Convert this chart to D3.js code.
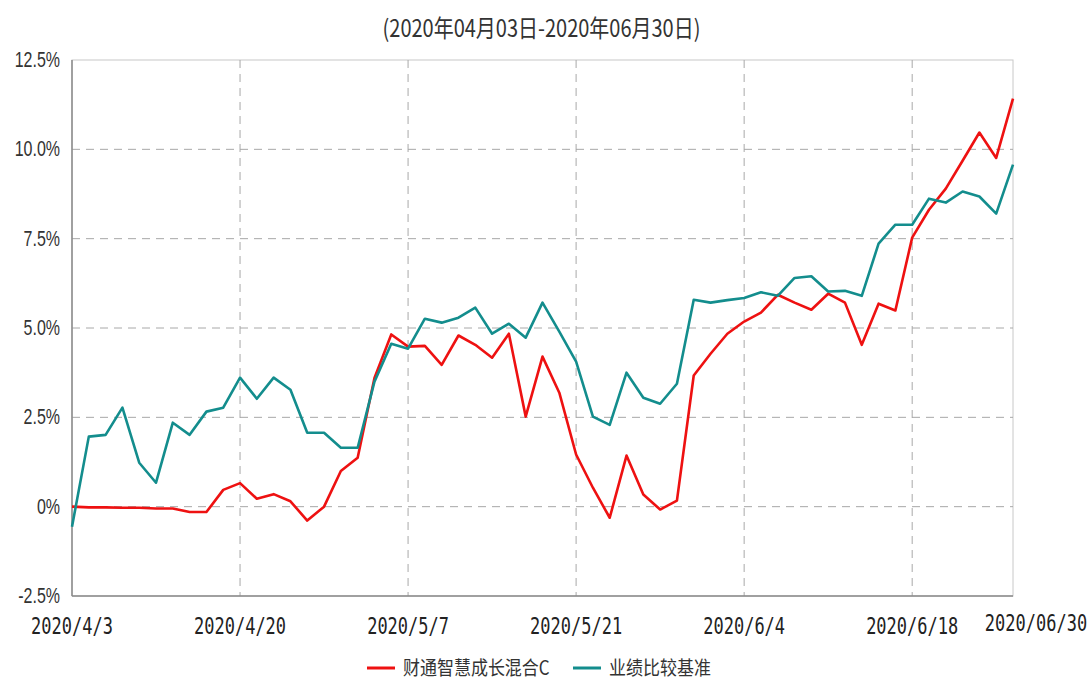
<!DOCTYPE html>
<meta charset="utf-8">
<style>
  body { margin: 0; background: #fff; }
  .grid line { stroke: #a8a8a8; stroke-width: 1px; stroke-dasharray: 8,6; }
  .tick-y text { font-family: "Liberation Sans", Arial, sans-serif; fill: #333; }
  .tick-x text { font-family: "DejaVu Sans Mono", monospace; fill: #222; }
  .line { fill: none; stroke-width: 2.6px; stroke-linejoin: round; }
</style>
<body>
<script src="https://cdn.jsdelivr.net/npm/d3@7"></script>
<script>
  // trading days 2020-04-03 .. 2020-06-30
  var dates = ["4/3","4/7","4/8","4/9","4/10","4/13","4/14","4/15","4/16","4/17",
    "4/20","4/21","4/22","4/23","4/24","4/27","4/28","4/29","4/30","5/6",
    "5/7","5/8","5/11","5/12","5/13","5/14","5/15","5/18","5/19","5/20",
    "5/21","5/22","5/25","5/26","5/27","5/28","5/29","6/1","6/2","6/3",
    "6/4","6/5","6/8","6/9","6/10","6/11","6/12","6/15","6/16","6/17",
    "6/18","6/19","6/22","6/23","6/24","6/29","6/30"];

  // 财通智慧成长混合C (%)
  var fund = [0, -0.02, -0.02, -0.03, -0.03, -0.05, -0.05, -0.15, -0.15, 0.47,
    0.66, 0.22, 0.35, 0.15, -0.39, 0.0, 1.0, 1.37, 3.6, 4.82,
    4.48, 4.5, 3.97, 4.79, 4.53, 4.17, 4.84, 2.52, 4.2, 3.19,
    1.46, 0.53, -0.31, 1.43, 0.34, -0.08, 0.17, 3.67, 4.28, 4.84,
    5.18, 5.43, 5.93, 5.71, 5.51, 5.96, 5.71, 4.53, 5.68, 5.49,
    7.53, 8.31, 8.9, 9.68, 10.47, 9.76, 11.42];

  // 业绩比较基准 (%)
  var bench = [-0.56, 1.96, 2.01, 2.77, 1.23, 0.67, 2.35, 2.01, 2.66, 2.77,
    3.61, 3.02, 3.61, 3.27, 2.07, 2.07, 1.65, 1.65, 3.5, 4.56,
    4.42, 5.26, 5.15, 5.29, 5.57, 4.84, 5.12, 4.73, 5.71, 4.9,
    4.06, 2.52, 2.29, 3.75, 3.05, 2.88, 3.44, 5.79, 5.71, 5.78,
    5.84, 6.0, 5.9, 6.4, 6.45, 6.02, 6.04, 5.9, 7.36, 7.89,
    7.89, 8.62, 8.51, 8.82, 8.68, 8.2, 9.57];

  var yTicks = [-2.5, 0, 2.5, 5, 7.5, 10, 12.5];
  var xTicks = ["4/3", "4/20", "5/7", "5/21", "6/4", "6/18"];
  var endLabel = "2020/06/30";
  var title = "(2020年04月03日-2020年06月30日)";
  var seriesNames = ["财通智慧成长混合C", "业绩比较基准"];
  var colors = ["#ee1111", "#138d8d"];

  var W = 1087, H = 689;
  var margin = { top: 60, right: 74, bottom: 93, left: 72 };

  var svg = d3.select("body").append("svg")
    .attr("width", W)
    .attr("height", H);

  var x = d3.scalePoint()
    .domain(dates)
    .range([margin.left, W - margin.right]);

  var y = d3.scaleLinear()
    .domain([-2.5, 12.5])
    .range([H - margin.bottom, margin.top]);

  // title
  svg.append("text")
    .attr("transform", "translate(" + (W / 2 - 2) + ",37) scale(1,1.2)")
    .attr("text-anchor", "middle")
    .style("font-family", "'Noto Sans CJK SC', sans-serif")
    .style("font-size", "20px")
    .style("fill", "#333")
    .text(title);

  // frame
  svg.append("rect")
    .attr("x", margin.left)
    .attr("y", margin.top)
    .attr("width", W - margin.right - margin.left)
    .attr("height", H - margin.bottom - margin.top)
    .style("fill", "none")
    .style("stroke", "#c8c8c8");

  // gridlines
  var grid = svg.append("g").attr("class", "grid");
  grid.selectAll(".gy")
    .data(yTicks.filter(function(d) { return d > -2.5 && d < 12.5; }))
    .enter().append("line")
    .attr("x1", margin.left)
    .attr("x2", W - margin.right)
    .attr("y1", function(d) { return y(d); })
    .attr("y2", function(d) { return y(d); });

  grid.selectAll(".gx")
    .data(xTicks.slice(1))
    .enter().append("line")
    .attr("x1", function(d) { return x(d); })
    .attr("x2", function(d) { return x(d); })
    .attr("y1", margin.top)
    .attr("y2", H - margin.bottom);

  // axis lines
  svg.append("line")
    .attr("x1", margin.left).attr("x2", margin.left)
    .attr("y1", margin.top).attr("y2", H - margin.bottom)
    .style("stroke", "#8a8a8a").style("stroke-width", 1.5);
  svg.append("line")
    .attr("x1", margin.left).attr("x2", W - margin.right)
    .attr("y1", H - margin.bottom).attr("y2", H - margin.bottom)
    .style("stroke", "#8a8a8a").style("stroke-width", 1.5);

  // y labels
  svg.append("g").attr("class", "tick-y")
    .selectAll("text")
    .data(yTicks)
    .enter().append("text")
    .attr("transform", function(d) { return "translate(60," + (y(d) + 7) + ") scale(1,1.35)"; })
    .attr("text-anchor", "end")
    .style("font-size", "16px")
    .text(function(d) { return d === 0 ? "0%" : d.toFixed(1) + "%"; });

  // x labels
  var xl = svg.append("g").attr("class", "tick-x");
  xl.selectAll("text")
    .data(xTicks)
    .enter().append("text")
    .attr("transform", function(d) { return "translate(" + x(d) + ",634) scale(1,1.35)"; })
    .attr("text-anchor", "middle")
    .style("font-size", "17px")
    .text(function(d) { return "2020/" + d; });
  xl.append("text")
    .attr("transform", "translate(" + (x(dates[dates.length - 1]) + 23) + ",631) scale(1,1.35)")
    .attr("text-anchor", "middle")
    .style("font-size", "17px")
    .text(endLabel);

  // lines
  var line = d3.line()
    .x(function(d, i) { return x(dates[i]); })
    .y(function(d) { return y(d); });

  [fund, bench].forEach(function(s, k) {
    svg.append("path")
      .attr("class", "line")
      .attr("d", line(s))
      .style("stroke", colors[k]);
  });

  // legend
  var legendX = [367, 573];
  var lg = svg.append("g");
  seriesNames.forEach(function(name, k) {
    lg.append("line")
      .attr("x1", legendX[k]).attr("x2", legendX[k] + 28)
      .attr("y1", 668).attr("y2", 668)
      .style("stroke", colors[k]).style("stroke-width", 3);
    lg.append("text")
      .attr("transform", "translate(" + (legendX[k] + 36) + ",675) scale(1,1.15)")
      .style("font-family", "'Noto Sans CJK SC', sans-serif")
      .style("font-size", "17px")
      .style("fill", "#333")
      .text(name);
  });
</script>
</body>
